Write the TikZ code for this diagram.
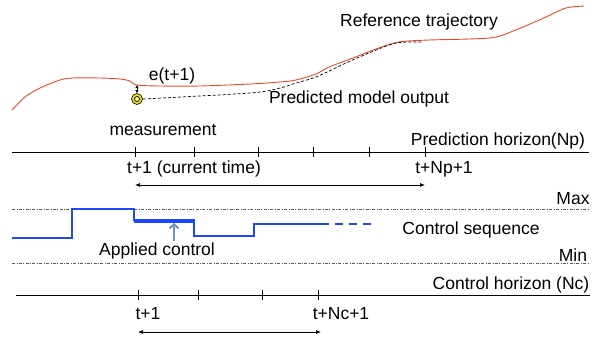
\documentclass[tikz,border=0pt]{standalone}
\usepackage{fontspec}
\setmainfont{Liberation Sans}
\usetikzlibrary{arrows.meta, positioning}
\definecolor{reftraj}{RGB}{240,70,40}
\definecolor{ctrlblue}{RGB}{30,70,250}
\definecolor{applblue}{RGB}{110,150,200}

\begin{document}
\begin{tikzpicture}[
    x=1pt, y=-1pt,
    lbl/.style={font=\fontsize{17.5}{19}\selectfont, inner sep=0pt},
    axis/.style={line width=0.8pt},
    limit/.style={gray!70!black, line width=0.7pt, dash pattern=on 3pt off 1.5pt on 0.8pt off 1.5pt},
    ctrl/.style={ctrlblue, line width=1.8pt},
    arr/.style={{Latex[length=5pt,width=4pt]}-{Latex[length=5pt,width=4pt]}, line width=0.7pt}
]
\useasboundingbox (0,0) rectangle (596,338);

% reference and predicted output
\draw[reftraj, line width=0.9pt] plot[smooth, tension=0.5] coordinates {(12,110) (25,97) (40,88) (60,80) (73,78) (100,78) (120,79) (130,81) (137,85) (160,86) (200,86) (250,84) (280,82) (296,80) (316,74) (329,67) (353,58) (376,49) (399,42) (429,40) (469,39) (496,37) (523,27) (546,17) (566,8) (584,6)};
\node[circle, draw, fill=yellow!90!black, line width=0.6pt, minimum size=11pt, inner sep=0pt] (meas) at (137,99) {};
\node[circle, draw, fill=yellow!40, line width=0.7pt, minimum size=5pt, inner sep=0pt] at (meas) {};
\draw[dashed, line width=0.7pt, dash pattern=on 3pt off 2pt] plot[smooth, tension=0.5] coordinates {(meas.east) (250,93) (280,88) (296,83) (316,77) (346,63) (369,53) (396,43) (423,42)};
\coordinate (err) at (137,85);
\draw[{Latex[length=3pt,width=3.5pt]}-{Latex[length=3pt,width=3.5pt]}, line width=0.6pt] (err) -- (meas.north);
\node[lbl] (reflbl) at (419,22) {Reference trajectory};
\node[lbl] (errlbl) at (172,76) {e(t+1)};
\node[lbl] (predlbl) at (359,99) {Predicted model output};

% prediction horizon
\node[lbl] (measlbl) at (163,130) {measurement};
\coordinate (np0) at (12,152);
\coordinate (np1) at (589,152);
\draw[axis] (np0) -- (np1);
\foreach \x [count=\i] in {135,194,258,313,369,425}
  \draw[axis] (\x,147) -- (\x,157) coordinate (pt\i);
\node[lbl] (nplbl) at (498,141) {Prediction horizon(Np)};
\node[lbl] (nowlbl) at (194,169) {t+1 (current time)};
\node[lbl] (npendlbl) at (444,169) {t+Np+1};
\coordinate (hp0) at (135,185);
\coordinate (hp1) at (425,185);
\draw[arr] (hp0) -- (hp1);

% constraints and control sequence
\coordinate (max0) at (12,209);
\coordinate (max1) at (590,209);
\coordinate (min0) at (12,263);
\coordinate (min1) at (590,263);
\draw[limit] (max0) -- (max1);
\draw[limit] (min0) -- (min1);
\node[lbl] (maxlbl) at (573,199) {Max};
\node[lbl] (minlbl) at (573,255) {Min};
\draw[ctrl] (12,238) -- (72,238) -- (72,209) -- (134,209) -- (134,220) -- (194,220) -- (194,236) -- (254,236) -- (254,224) -- (321,224);
\draw[ctrl, dash pattern=on 8pt off 6pt] (321,224) -- (374,224);
\draw[ctrlblue, line width=3.6pt] (134,221) -- (194,221);
\node[lbl] (seqlbl) at (471,230) {Control sequence};
\node[lbl] (applied) at (157,251) {Applied control};
\coordinate (uapp) at (174,223);
\draw[applblue, line width=2pt, -{Straight Barb[length=4pt,width=9pt]}] ([yshift=2pt]applied.north -| uapp) -- (uapp);

% control horizon
\coordinate (nc0) at (16,295);
\coordinate (nc1) at (590,295);
\draw[axis] (nc0) -- (nc1);
\foreach \x [count=\i] in {138,198,262,318}
  \draw[axis] (\x,290) -- (\x,300) coordinate (ct\i);
\node[lbl] (nclbl) at (511,285) {Control horizon (Nc)};
\node[lbl] (nc1lbl) at (148,314) {t+1};
\node[lbl] (ncendlbl) at (341,314) {t+Nc+1};
\coordinate (hc0) at (138,332);
\coordinate (hc1) at (321,332);
\draw[arr] (hc0) -- (hc1);
\end{tikzpicture}
\end{document}
